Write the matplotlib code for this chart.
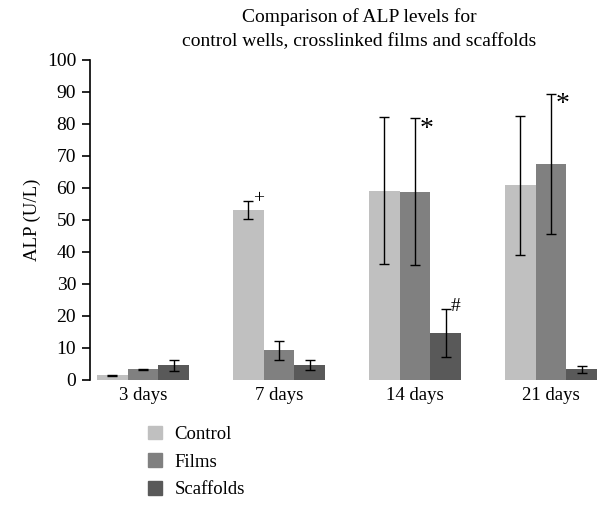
import matplotlib.pyplot as plt
import numpy as np
from matplotlib.patches import Patch

plt.rcParams['font.family'] = ['Liberation Serif', 'DejaVu Serif']

days = ["3 days", "7 days", "14 days", "21 days"]
series = ["Control", "Films", "Scaffolds"]
control = [1.5, 53.2, 59.2, 60.8]
control_err = [0.2, 2.8, 23.0, 21.8]
films = [3.3, 9.3, 58.8, 67.6]
films_err = [0.2, 2.9, 23.0, 21.9]
scaffolds = [4.6, 4.6, 14.6, 3.3]
scaffolds_err = [1.7, 1.6, 7.5, 1.1]
# significance marks: (group, series index, symbol)
marks = [(1, 0, "+"), (2, 1, "*"), (3, 1, "*"), (2, 2, "#")]

colors = ["#c0c0c0", "#808080", "#595959"]
values = [control, films, scaffolds]
errors = [control_err, films_err, scaffolds_err]

fig = plt.figure(figsize=(6.14, 5.18), dpi=100)
ax = fig.add_axes([90 / 614, (518 - 380) / 518, (614 - 90) / 614, 320 / 518])

x = np.arange(len(days))
w = 0.225
for i in range(3):
    ax.bar(x + (i - 1) * w, values[i], w, color=colors[i], label=series[i],
           yerr=errors[i], error_kw=dict(ecolor="black", elinewidth=1.0,
                                         capsize=3.5, capthick=1.0))

for g, s, sym in marks:
    top = values[s][g] + errors[s][g]
    xs = x[g] + (s - 1) * w + 0.035
    if sym == "*":
        ax.text(xs, top + 0.5, sym, fontsize=20, va="top", ha="left")
    else:
        ax.text(xs, top + 0.8, sym, fontsize=14, va="center", ha="left")

ax.set_xlim((90 - 143) / 136, (614 - 143) / 136)
ax.set_ylim(0, 100)
ax.set_yticks(range(0, 101, 10))
ax.set_xticks(x)
ax.set_xticklabels(days)
ax.tick_params(axis="x", length=0, labelsize=13.5, pad=5)
ax.tick_params(axis="y", length=6, width=1.2, labelsize=14, direction="out", pad=4)
for sp in ["top", "right", "bottom"]:
    ax.spines[sp].set_visible(False)
ax.spines["left"].set_linewidth(1.2)
ax.set_ylabel("ALP (U/L)", fontsize=13.5, labelpad=4)

fig.text(0.585, 0.985, "Comparison of ALP levels for\ncontrol wells, crosslinked films and scaffolds",
         ha="center", va="top", fontsize=14, linespacing=1.6)

handles = [Patch(color=c, label=l) for c, l in zip(colors, series)]
fig.legend(handles=handles, loc="upper left", bbox_to_anchor=(140 / 614, 1 - 418 / 518),
           frameon=False, fontsize=13.5, handlelength=0.75, handleheight=0.75,
           handletextpad=0.7, labelspacing=0.55, borderaxespad=0)

fig.savefig("out.png", dpi=100)
